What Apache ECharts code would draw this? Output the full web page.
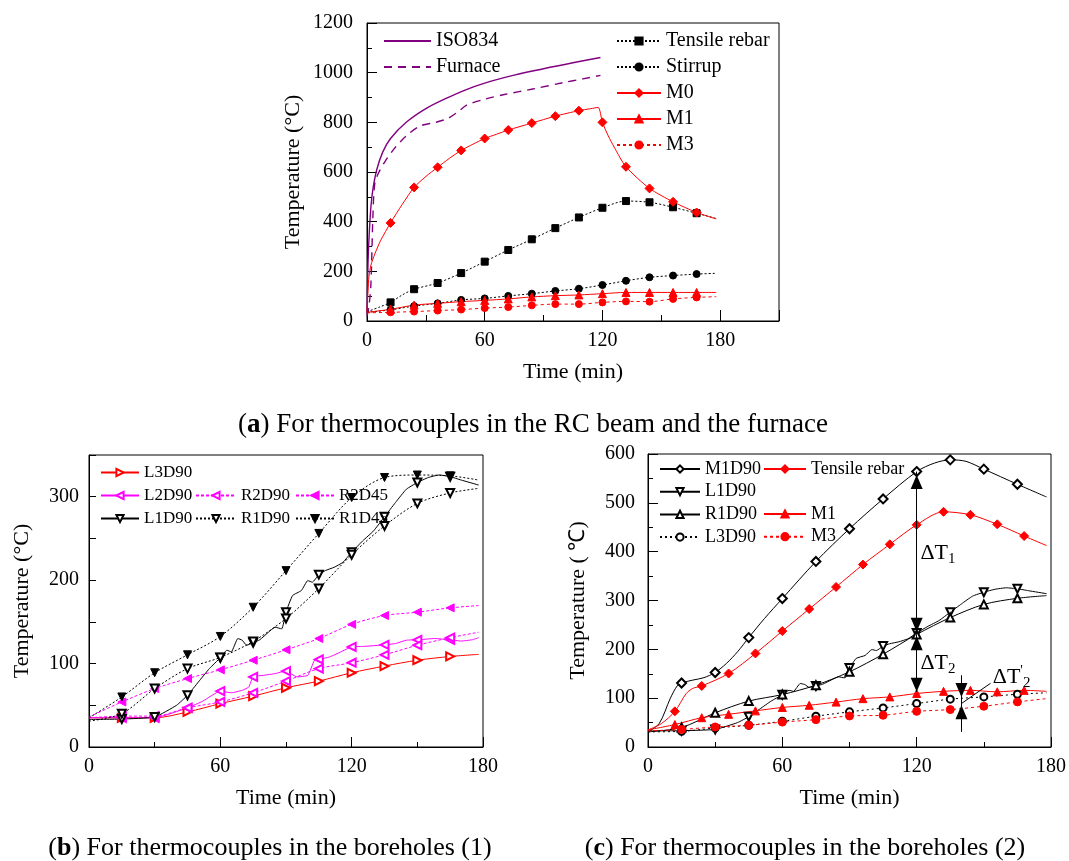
<!DOCTYPE html>
<html>
<head>
  <meta charset="utf-8">
  <title>Temperature histories</title>
  <script src="https://cdn.jsdelivr.net/npm/echarts@6/dist/echarts.min.js"></script>
  <style>html,body{margin:0;background:#fff}</style>
</head>
<body>
  <div id="main" style="width: 1069px; height: 861px;"></div>
  <script>
    // ---- (a) RC beam and furnace: [time (min), temperature (°C)]
    var iso834 = [[0,30],[0.5,230],[1,330],[2,460],[3,530],[5,610],[8,680],[12,735],[20,800],[30,855],[40,895],[50,930],[60,958],[75,990],[90,1016],[105,1040],[119,1061]];
    var furnace = [[0,20],[1,60],[2,150],[3,420],[4,555],[6,598],[9,640],[14,695],[20,745],[27,785],[35,800],[41,815],[46,840],[51,870],[60,893],[70,912],[85,935],[100,960],[110,975],[119,989]];
    var rebarA = [[0,37],[6,55],[12,75],[18,105],[24,128],[36,153],[48,193],[60,239],[72,286],[84,329],[96,374],[108,417],[120,456],[132,483],[144,478],[156,458],[168,434],[178,413]];
    var stirrupA = [[0,35],[12,45],[24,60],[36,71],[48,85],[60,91],[72,101],[84,110],[96,121],[108,130],[120,145],[132,162],[144,176],[156,183],[168,189],[178,192]];
    var m0A = [[0,35],[0.5,120],[1,180],[2,225],[4,270],[7,325],[12,395],[18,470],[24,538],[30,582],[36,619],[42,655],[48,687],[54,712],[60,735],[66,752],[72,769],[84,797],[96,825],[108,847],[114,855],[117.8,860],[120,800],[123,745],[126,700],[132,621],[144,534],[156,480],[168,437],[178,411]];
    var m1A = [[0,35],[12,47],[24,64],[36,71],[48,78],[60,83],[72,89],[84,97],[96,102],[108,105],[120,110],[132,115],[144,115],[156,115],[168,115],[178,115]];
    var m3A = [[0,33],[12,35],[24,38],[36,42],[48,46],[60,52],[72,56],[84,63],[96,68],[108,68],[120,75],[132,79],[144,78],[156,89],[168,95],[178,98]];

    // ---- (b) boreholes (1)
    var l3d90B = [[0,35],[15,35],[30,35],[45,42],[60,52],[75,61],[90,71],[105,79],[120,89],[135,97],[150,104],[165,108.5],[178,111]];
    var l2d90B = [[0,35],[15,35],[30,35],[45,47],[52,55],[60,67],[65,65],[70,68],[73,72],[75,84],[80,86],[85,88],[90,91],[95,84],[100,86],[103,104],[105,105],[110,108],[115,114],[120,120],[125,120.5],[135,122.5],[140,124],[145,128],[150,128.5],[158,130],[165,128.5],[170,127],[175,128.5],[178,131]];
    var r2d90B = [[0,35],[15,37],[30,37],[45,47],[60,54],[75,65],[90,79],[105,94],[120,101],[135,110.5],[150,122],[165,131],[178,137.6]];
    var r2d45B = [[0,36],[15,54],[30,70],[45,82],[60,92.5],[75,104],[90,116.5],[105,130],[120,147],[135,157.6],[150,161.6],[165,166.8],[178,169.5]];
    var l1d90 = [[0,33],[15,33.5],[30,36],[40,50],[45,62],[50,78],[55,94],[60,107],[63,116],[65,114],[68,130],[70,128],[72,122],[75,125],[78,128.5],[82,137.6],[85,143.6],[88,141.6],[90,161.6],[93,181.5],[97,187.5],[100,199.5],[102,197.5],[105,206.6],[108,211.5],[112,215.4],[116,221.4],[120,233.4],[125,247],[130,259],[135,276],[140,293],[145,309],[150,317],[155,323],[160,326],[165,324],[170,320],[178,314]];
    var r1d90 = [[0,31],[15,40],[30,70],[45,94],[60,107.4],[75,126.6],[90,154],[105,190],[120,230.5],[135,265],[150,292],[165,304.5],[178,310]];
    var r1d45B = [[0,35],[15,60],[30,89],[45,110.5],[60,132.5],[75,167.5],[90,211.4],[105,256],[120,299],[135,323],[150,326],[165,325],[178,320]];

    // ---- (c) boreholes (2)
    var m1d90C = [[0,31],[5,48],[10,100],[13,125],[15,131],[20,137],[25,142],[30,152.6],[35,171],[40,195],[45,224],[52,263],[60,304],[75,380],[90,447],[105,508],[120,564],[128,581.5],[135,588],[142,585],[150,569],[165,538],[178,512]];
    var rebarC = [[0,35],[6,48],[12,73],[17,109],[20,120],[24,125],[36,150.5],[48,191.6],[60,237.4],[72,282.5],[84,327.7],[96,373.5],[108,415],[120,455],[132,481.6],[144,475.5],[156,456],[168,432],[178,412.5]];
    var l3d90C = [[0,31],[15,32],[30,39],[45,44.5],[60,52.7],[75,63],[90,72],[105,80],[120,89],[135,98],[150,102.6],[165,108],[178,111]];
    var m1C = [[0,35],[12,46],[24,60],[36,67],[48,74],[60,81],[72,85.5],[84,92],[96,99],[108,102.6],[120,109.5],[132,114],[144,116],[156,113],[168,116],[178,114]];
    var m3C = [[0,33],[15,36],[30,41],[45,44.5],[60,51],[75,56],[90,63.6],[105,65],[120,73],[135,76.6],[150,83.5],[165,92.4],[178,99]];

    // arrows in (c): [time, from, to]
    var dtLines = [[120,564,230],[120,230,113],[140,147,31]];
    var upHeads = [[120,557],[120,227],[140,85.5]];   // tip positions
    var downHeads = [[120,236],[120,113],[140,102.6]];
    var leader = [[140,89],[153,130.5]];
    var dtLabels = [[121.7,397,'{a|ΔT}{s|1}'],[121.7,171,'{a|ΔT}{s|2}'],[154,143,'{a|ΔT}{p|\'}{s|2}']];

    var FONT = 'Liberation Serif';
    var chart = echarts.init(document.getElementById('main'));

    function pts(arr, step) {
      return arr.map(function (p) {
        var t = p[0];
        var mark = step && t > 0 && t < 175 && t % step === 0;
        return mark ? { value: p } : { value: p, symbol: 'none' };
      });
    }

    function mk(o) {
      return {
        type: 'line', name: o.name, xAxisIndex: o.x, yAxisIndex: o.g,
        data: pts(o.data, o.step),
        symbol: o.symbol || 'none', symbolSize: o.size || 7, symbolRotate: o.rot || 0,
        showAllSymbol: true,
        smooth: o.smooth === undefined ? 0.3 : o.smooth,
        lineStyle: { color: o.color, width: o.width || 1, type: o.dash || 'solid' },
        itemStyle: { color: o.color, borderColor: o.color, borderWidth: 1 },
        z: o.z || 3
      };
    }

    var fmt = function (n) { return n.split('#')[0]; };
    function lg(names, left, top, w, size, gap) {
      return {
        left: left, top: top, orient: 'vertical', padding: 0,
        itemWidth: w, itemHeight: 9, itemGap: gap, selectedMode: false,
        data: names, formatter: fmt,
        textStyle: { fontFamily: FONT, fontSize: size, color: '#000' }
      };
    }

    function yAx(grid, max, interval, minor, gap, margin, name, fmtFn) {
      return {
        gridIndex: grid, type: 'value', min: 0, max: max, interval: interval,
        name: name, nameLocation: 'middle', nameGap: gap,
        nameTextStyle: { fontFamily: FONT, fontSize: 22, color: '#000' },
        axisLine: { show: true, lineStyle: { color: '#000', width: 1 } },
        axisTick: { show: true, inside: true, length: minor ? 10 : 7, lineStyle: { color: '#000' } },
        minorTick: { show: !!minor, splitNumber: 2, length: 5, lineStyle: { color: '#000' } },
        axisLabel: { fontFamily: FONT, fontSize: 20, color: '#000', margin: margin,
          formatter: fmtFn || function (v) { return String(v); } },
        splitLine: { show: false }
      };
    }

    function xAx(grid, max, interval, minor) {
      return {
        gridIndex: grid, type: 'value', min: 0, max: max, interval: interval, position: 'bottom',
        name: 'Time (min)', nameLocation: 'middle', nameGap: 40,
        nameTextStyle: { fontFamily: FONT, fontSize: 22, color: '#000' },
        axisLine: { show: true, onZero: false, lineStyle: { color: '#000', width: 1 } },
        axisTick: { show: true, inside: true, length: minor ? 10 : 6, lineStyle: { color: '#000' } },
        minorTick: { show: !!minor, splitNumber: 2, length: 5, lineStyle: { color: '#000' } },
        axisLabel: { fontFamily: FONT, fontSize: 20, color: '#000', margin: 10,
          formatter: function (v) { return v % 60 === 0 ? String(v) : ''; } },
        splitLine: { show: false }
      };
    }

    var xA = xAx(0, 210, 30, false);
    var xA2 = {
      gridIndex: 0, type: 'value', min: 0, max: 210, interval: 60, position: 'bottom',
      axisLine: { show: false }, axisLabel: { show: false }, splitLine: { show: false },
      axisTick: { show: true, inside: true, length: 11, lineStyle: { color: '#000' } }
    };

    var BLACK = '#000', RED = '#ff0000', MAG = '#ff00ff', PUR = '#800080';
    var DOT = [2, 2], RDOT = [3, 3], MDOT = [3, 2];

    var series = [
      // (a)
      mk({ name: 'ISO834', data: iso834, x: 0, g: 0, color: PUR, width: 1.4, smooth: 0.4 }),
      mk({ name: 'Furnace', data: furnace, x: 0, g: 0, color: PUR, width: 1.4, dash: [8, 6] }),
      mk({ name: 'Tensile rebar', data: rebarA, x: 0, g: 0, step: 12, color: BLACK, dash: DOT, symbol: 'rect', size: 7 }),
      mk({ name: 'Stirrup', data: stirrupA, x: 0, g: 0, step: 12, color: BLACK, dash: DOT, symbol: 'circle', size: 7 }),
      mk({ name: 'M0', data: m0A, x: 0, g: 0, step: 12, color: RED, symbol: 'diamond', size: 9, smooth: 0.25 }),
      mk({ name: 'M1', data: m1A, x: 0, g: 0, step: 12, color: RED, symbol: 'triangle', size: 8 }),
      mk({ name: 'M3', data: m3A, x: 0, g: 0, step: 12, color: RED, dash: RDOT, symbol: 'circle', size: 7 }),
      // (b)
      mk({ name: 'L3D90#b', data: l3d90B, x: 2, g: 1, step: 15, color: RED, symbol: 'emptyTriangle', rot: -90, size: 8 }),
      mk({ name: 'L2D90#b', data: l2d90B, x: 2, g: 1, step: 15, color: MAG, symbol: 'emptyTriangle', rot: 90, size: 8, smooth: 0.15 }),
      mk({ name: 'R2D90#b', data: r2d90B, x: 2, g: 1, step: 15, color: MAG, dash: MDOT, symbol: 'emptyTriangle', rot: 90, size: 8 }),
      mk({ name: 'R2D45#b', data: r2d45B, x: 2, g: 1, step: 15, color: MAG, dash: MDOT, symbol: 'triangle', rot: 90, size: 8 }),
      mk({ name: 'L1D90#b', data: l1d90, x: 2, g: 1, step: 15, color: BLACK, symbol: 'emptyTriangle', rot: 180, size: 8, smooth: 0.15 }),
      mk({ name: 'R1D90#b', data: r1d90, x: 2, g: 1, step: 15, color: BLACK, dash: DOT, symbol: 'emptyTriangle', rot: 180, size: 8 }),
      mk({ name: 'R1D45#b', data: r1d45B, x: 2, g: 1, step: 15, color: BLACK, dash: DOT, symbol: 'triangle', rot: 180, size: 8 }),
      // (c)
      mk({ name: 'M1D90#c', data: m1d90C, x: 3, g: 2, step: 15, color: BLACK, symbol: 'emptyDiamond', size: 9 }),
      mk({ name: 'L1D90#c', data: l1d90, x: 3, g: 2, step: 15, color: BLACK, symbol: 'emptyTriangle', rot: 180, size: 8, smooth: 0.15 }),
      mk({ name: 'R1D90#c', data: r1d90, x: 3, g: 2, step: 15, color: BLACK, symbol: 'emptyTriangle', size: 8 }),
      mk({ name: 'L3D90#c', data: l3d90C, x: 3, g: 2, step: 15, color: BLACK, dash: [2, 3], symbol: 'emptyCircle', size: 7 }),
      mk({ name: 'Tensile rebar#c', data: rebarC, x: 3, g: 2, step: 12, color: RED, symbol: 'diamond', size: 9 }),
      mk({ name: 'M1#c', data: m1C, x: 3, g: 2, step: 12, color: RED, symbol: 'triangle', size: 8 }),
      mk({ name: 'M3#c', data: m3C, x: 3, g: 2, step: 15, color: RED, dash: RDOT, symbol: 'circle', size: 8 })
    ];

    // annotation arrows and ΔT labels in (c)
    var mlData = dtLines.map(function (d) { return [{ coord: [d[0], d[1]] }, { coord: [d[0], d[2]] }]; });
    mlData.push([{ coord: leader[0] }, { coord: leader[1] }]);
    var mpData = [];
    upHeads.forEach(function (p) {
      mpData.push({ coord: p, symbol: 'triangle', symbolSize: [12, 14], symbolOffset: [0, 7] });
    });
    downHeads.forEach(function (p) {
      mpData.push({ coord: p, symbol: 'triangle', symbolSize: [12, 14], symbolRotate: 180, symbolOffset: [0, -7] });
    });
    dtLabels.forEach(function (p) {
      mpData.push({
        coord: [p[0], p[1]], symbol: 'circle', symbolSize: 0,
        label: { show: true, position: 'right', distance: 0, formatter: p[2] }
      });
    });
    series.push({
      type: 'line', name: 'annot', xAxisIndex: 3, yAxisIndex: 2, data: [[140, 31]], symbol: 'none',
      lineStyle: { opacity: 0 }, silent: true, z: 5,
      markLine: {
        silent: true, symbol: ['none', 'none'], animation: false,
        lineStyle: { color: '#000', width: 1, type: 'solid' },
        label: { show: false }, emphasis: { disabled: true },
        data: mlData
      },
      markPoint: {
        silent: true, animation: false,
        itemStyle: { color: '#000' },
        label: {
          show: false, color: '#000', fontFamily: FONT,
          rich: {
            a: { fontFamily: FONT, fontSize: 22, lineHeight: 26, color: '#000' },
            s: { fontFamily: FONT, fontSize: 15, lineHeight: 15, verticalAlign: 'bottom', color: '#000' },
            p: { fontFamily: FONT, fontSize: 14, lineHeight: 14, verticalAlign: 'top', color: '#000' }
          }
        },
        data: mpData
      }
    });

    var noSym = { color: 'rgba(0,0,0,0)', borderColor: 'rgba(0,0,0,0)', borderWidth: 0, opacity: 0 };

    var option = {
      animation: false,
      textStyle: { fontFamily: FONT },
      grid: [
        { left: 367, top: 23, width: 412, height: 298, show: true, borderColor: '#000', borderWidth: 1 },
        { left: 89, top: 455, width: 394, height: 292, show: true, borderColor: '#000', borderWidth: 1 },
        { left: 648, top: 454, width: 405, height: 293, show: true, borderColor: '#000', borderWidth: 1 }
      ],
      xAxis: [xA, xA2, xAx(1, 180, 60, true), xAx(2, 180, 60, true)],
      yAxis: [
        yAx(0, 1200, 200, true, 63, 14, 'Temperature (°C)'),
        yAx(1, 350, 50, false, 56, 10, 'Temperature (°C)', function (v) { return v % 100 === 0 ? String(v) : ''; }),
        yAx(2, 600, 100, true, 59, 13, 'Temperature ( ℃)')
      ],
      legend: [
        lg([{ name: 'ISO834', itemStyle: noSym }, { name: 'Furnace', itemStyle: noSym }], 383, 31, 47, 20, 6),
        lg(['Tensile rebar', 'Stirrup', 'M0', 'M1', 'M3'], 616, 31, 44, 20, 6),
        lg(['L3D90#b', 'L2D90#b', 'L1D90#b'], 100, 464, 38, 17, 6),
        lg(['R2D90#b', 'R1D90#b'], 195, 487, 40, 17, 6),
        lg(['R2D45#b', 'R1D45#b'], 295, 487, 38, 17, 6),
        lg(['M1D90#c', 'L1D90#c', 'R1D90#c', 'L3D90#c'], 659, 460, 40, 18, 4.7),
        lg(['Tensile rebar#c'], 763, 460, 42, 18, 4.7),
        lg(['M1#c', 'M3#c'], 763, 505, 42, 18, 4.7)
      ],
      graphic: [
        { type: 'text', x: 533, y: 425, style: { text: '({b|a}) For thermocouples in the RC beam and the furnace',
          fontFamily: FONT, fontSize: 27, fill: '#000', align: 'center', verticalAlign: 'middle',
          rich: { b: { fontFamily: FONT, fontSize: 27, fontWeight: 'bold' } } } },
        { type: 'text', x: 270, y: 848, style: { text: '({b|b}) For thermocouples in the boreholes (1)',
          fontFamily: FONT, fontSize: 26, fill: '#000', align: 'center', verticalAlign: 'middle',
          rich: { b: { fontFamily: FONT, fontSize: 26, fontWeight: 'bold' } } } },
        { type: 'text', x: 805, y: 848, style: { text: '({b|c}) For thermocouples in the boreholes (2)',
          fontFamily: FONT, fontSize: 26, fill: '#000', align: 'center', verticalAlign: 'middle',
          rich: { b: { fontFamily: FONT, fontSize: 26, fontWeight: 'bold' } } } }
      ],
      series: series
    };

    chart.setOption(option);
  </script>
</body>
</html>
